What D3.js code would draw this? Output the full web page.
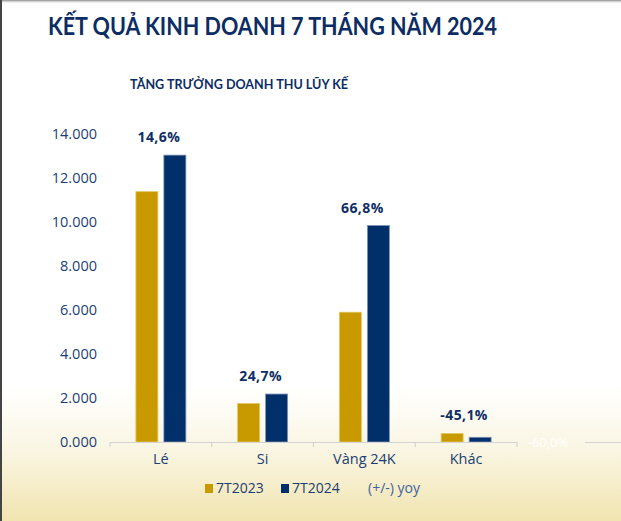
<!DOCTYPE html>
<html>
<head>
<meta charset="utf-8">
<script src="https://cdn.jsdelivr.net/npm/d3@7"></script>
<style>
  html, body { margin: 0; padding: 0; background: #fff; }
  svg { display: block; }
</style>
</head>
<body>
<svg id="chart" width="621" height="521"></svg>
<script>
const categories = ["Lé", "Si", "Vàng 24K", "Khác"];
const series = ["7T2023", "7T2024"];
const values2023 = [11380, 1750, 5900, 390];
const values2024 = [13040, 2180, 9840, 214];
const yoyLabels = ["14,6%", "24,7%", "66,8%", "-45,1%"];
const yTicks = [0, 2000, 4000, 6000, 8000, 10000, 12000, 14000];
const yTickLabels = ["0.000", "2.000", "4.000", "6.000", "8.000", "10.000", "12.000", "14.000"];

const colors = { "7T2023": "#C89A00", "7T2024": "#012F69" };
const navyText = "#0F2F66";

const svg = d3.select("#chart");
const W = 621, H = 521;

// background gradient
const defs = svg.append("defs");
const grad = defs.append("linearGradient").attr("id", "bg").attr("x1", 0).attr("y1", 0).attr("x2", 0).attr("y2", 1);
grad.append("stop").attr("offset", "0%").attr("stop-color", "#ffffff");
grad.append("stop").attr("offset", "74%").attr("stop-color", "#ffffff");
grad.append("stop").attr("offset", "86%").attr("stop-color", "#FAF6E4");
grad.append("stop").attr("offset", "100%").attr("stop-color", "#F1E4B0");
svg.append("rect").attr("width", W).attr("height", H).attr("fill", "url(#bg)");

// frame edges
const topShade = defs.append("linearGradient").attr("id", "topShade").attr("x1", 0).attr("y1", 0).attr("x2", 0).attr("y2", 1);
topShade.append("stop").attr("offset", "0%").attr("stop-color", "#8a8a8a");
topShade.append("stop").attr("offset", "100%").attr("stop-color", "#ffffff").attr("stop-opacity", 0);
svg.append("rect").attr("x", 0).attr("y", 0).attr("width", W).attr("height", 4).attr("fill", "url(#topShade)");
svg.append("rect").attr("x", 0).attr("y", 0).attr("width", 2).attr("height", H).attr("fill", "#444");

// titles
svg.append("text").attr("x", 48).attr("y", 35)
  .attr("font-family", "Lato, 'Open Sans', sans-serif").attr("font-weight", 700)
  .attr("font-size", 24).attr("fill", "#0C2D63")
  .attr("textLength", 449).attr("lengthAdjust", "spacingAndGlyphs")
  .text("KẾT QUẢ KINH DOANH 7 THÁNG NĂM 2024");
svg.append("text").attr("x", 130).attr("y", 89)
  .attr("font-family", "Lato, 'Open Sans', sans-serif").attr("font-weight", 700)
  .attr("font-size", 14).attr("fill", "#0C2D63")
  .attr("textLength", 218).attr("lengthAdjust", "spacingAndGlyphs")
  .text("TĂNG TRƯỞNG DOANH THU LŨY KẾ");

// scales
const x0 = d3.scaleBand().domain(categories).range([110, 517]).paddingInner(0).paddingOuter(0);
const y = d3.scaleLinear().domain([0, 14000]).range([442, 134]);
const barW = 22, gap = 6;
const x1 = d3.scaleOrdinal().domain(series).range([-(gap / 2 + barW), gap / 2]);

// y axis labels
const yAxis = d3.axisLeft(y).tickValues(yTicks).tickSize(0).tickPadding(0)
  .tickFormat((d, i) => yTickLabels[i]);
const gy = svg.append("g").attr("transform", "translate(97,0)").call(yAxis);
gy.select(".domain").remove();
gy.selectAll("text").attr("font-family", "'Open Sans', sans-serif").attr("font-size", 14.5)
  .attr("fill", "#1B3F74");

// bars
const data = categories.map((c, i) => ({ cat: c, vals: [{ s: "7T2023", v: values2023[i] }, { s: "7T2024", v: values2024[i] }] }));
const gBars = svg.append("g");
const groups = gBars.selectAll("g").data(data).join("g")
  .attr("transform", d => `translate(${x0(d.cat) + x0.bandwidth() / 2},0)`);
groups.selectAll("rect").data(d => d.vals).join("rect")
  .attr("x", d => x1(d.s))
  .attr("y", d => y(d.v))
  .attr("width", barW)
  .attr("height", d => y(0) - y(d.v))
  .attr("fill", d => colors[d.s])
  .attr("stroke", d => d.s === "7T2024" ? "#7E93B5" : "#E3C766")
  .attr("stroke-width", 0.8);

// yoy labels
groups.append("text")
  .attr("x", -2)
  .attr("y", (d) => y(Math.max(d.vals[0].v, d.vals[1].v)) - 13)
  .attr("text-anchor", "middle")
  .attr("font-family", "'Open Sans', sans-serif").attr("font-weight", 700)
  .attr("font-size", 14).attr("letter-spacing", 0.4).attr("fill", navyText)
  .text((d, i) => yoyLabels[i]);

// x axis
const xAxis = d3.axisBottom(x0).tickSize(0).tickPadding(0);
const gx = svg.append("g").attr("transform", `translate(0,${y(0)})`).call(xAxis);
gx.select(".domain").remove();
gx.selectAll("text").attr("font-family", "'Open Sans', sans-serif").attr("font-size", 14.5)
  .attr("fill", "#1B3F74").attr("dy", "1.5em");
const axisColor = "#D3D3D3";
svg.append("line").attr("x1", 110).attr("x2", 517).attr("y1", y(0) + 0.5).attr("y2", y(0) + 0.5)
  .attr("stroke", axisColor).attr("stroke-width", 1.2);
svg.append("line").attr("x1", 585).attr("x2", W).attr("y1", y(0) + 0.5).attr("y2", y(0) + 0.5)
  .attr("stroke", axisColor).attr("stroke-width", 1.2);
const boundaries = [110].concat(categories.map(c => x0(c) + x0.bandwidth()));
svg.selectAll(".xtick").data(boundaries).join("line")
  .attr("x1", d => d).attr("x2", d => d).attr("y1", y(0)).attr("y2", y(0) + 5)
  .attr("stroke", axisColor).attr("stroke-width", 1.2);
svg.append("text").attr("x", 548).attr("y", y(0) + 5).attr("text-anchor", "middle")
  .attr("font-family", "'Open Sans', sans-serif").attr("font-size", 13).attr("fill", "#ffffff")
  .text("-60,0%");

// legend
const legendItems = [
  { label: "7T2023", color: colors["7T2023"], x: 205 },
  { label: "7T2024", color: colors["7T2024"], x: 281 },
  { label: "(+/-) yoy", color: null, x: 368 }
];
const lg = svg.append("g");
legendItems.forEach(it => {
  let tx = it.x;
  if (it.color) {
    lg.append("rect").attr("x", it.x).attr("y", 484).attr("width", 8).attr("height", 9).attr("fill", it.color);
    tx = it.x + 11;
  }
  lg.append("text").attr("x", tx).attr("y", 493)
    .attr("font-family", "'Open Sans', sans-serif").attr("font-size", 14)
    .attr("fill", it.color ? "#1B3F74" : "#3E63A0")
    .text(it.label);
});
</script>
</body>
</html>
